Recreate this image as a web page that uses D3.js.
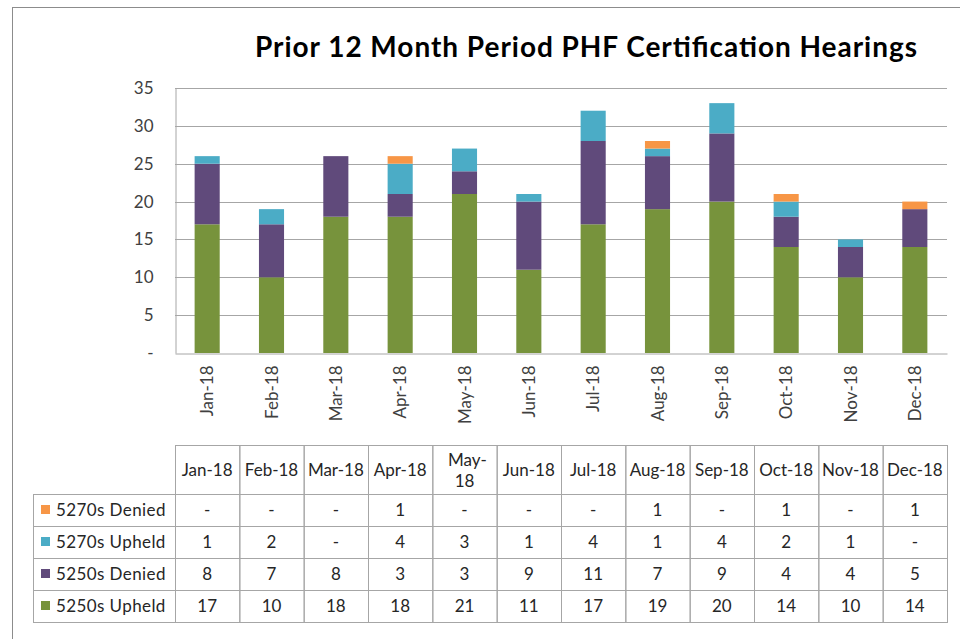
<!DOCTYPE html>
<html>
<head>
<meta charset="utf-8">
<script src="https://cdnjs.cloudflare.com/ajax/libs/d3/7.8.5/d3.min.js"></script>
<style>
  body { margin: 0; background: #fff; }
  text { font-family: Lato, "Noto Sans", sans-serif; }
</style>
</head>
<body>
<script>
// ---- data ----
var months = ['Jan-18','Feb-18','Mar-18','Apr-18','May-18','Jun-18','Jul-18','Aug-18','Sep-18','Oct-18','Nov-18','Dec-18']
var upheld5250 = [17, 10, 18, 18, 21, 11, 17, 19, 20, 14, 10, 14]
var denied5250 = [8, 7, 8, 3, 3, 9, 11, 7, 9, 4, 4, 5]
var upheld5270 = [1, 2, 0, 4, 3, 1, 4, 1, 4, 2, 1, 0]
var denied5270 = [0, 0, 0, 1, 0, 0, 0, 1, 0, 1, 0, 1]
var seriesNames = ['5250s Upheld', '5250s Denied', '5270s Upheld', '5270s Denied']
var yTicks = [0, 5, 10, 15, 20, 25, 30, 35]

var colors = ['#77933c', '#604a7b', '#4bacc6', '#f79646']
var width = 960, height = 639
var plotL = 175, plotR = 947, plotT = 88, plotB = 353

var svg = d3.select('body').append('svg').attr('width', width).attr('height', height)

// outer chart border (runs off the right/bottom of the picture)
svg.append('rect').attr('x', 12.5).attr('y', 7.5).attr('width', 1000).attr('height', 700)
  .attr('fill', 'none').attr('stroke', '#8c8c8c').attr('stroke-width', 1)

svg.append('text').attr('x', 586).attr('y', 57).attr('text-anchor', 'middle')
  .attr('font-size', 28).attr('font-weight', 'bold').attr('fill', '#000')
  .attr('textLength', 662).attr('lengthAdjust', 'spacing')
  .text('Prior 12 Month Period PHF Certification Hearings')

var x = d3.scaleBand().domain(months).range([plotL, plotR]).paddingInner(0.61).paddingOuter(0.305)
var band = d3.scaleBand().domain(months).range([plotL, plotR])
var y = d3.scaleLinear().domain([0, 35]).range([plotB, plotT])

// gridlines
svg.append('g').selectAll('line').data(yTicks.filter(d => d > 0)).enter().append('line')
  .attr('x1', plotL).attr('x2', plotR)
  .attr('y1', d => Math.round(y(d)) + 0.5).attr('y2', d => Math.round(y(d)) + 0.5)
  .attr('stroke', '#a6a6a6')

// y axis
var yAxis = d3.axisLeft(y).tickValues(yTicks).tickSize(0).tickPadding(22)
  .tickFormat(d => d === 0 ? '-' : d)
var yg = svg.append('g').attr('transform', 'translate(' + (plotL + 0.5) + ',0)').call(yAxis)
yg.select('.domain').attr('stroke', '#a6a6a6')
yg.selectAll('text').attr('font-size', 17).attr('fill', '#404040').style('font-family', 'Lato')

// stacked bars
var rows = months.map((m, i) => ({ month: m, s0: upheld5250[i], s1: denied5250[i], s2: upheld5270[i], s3: denied5270[i] }))
var stack = d3.stack().keys(['s0', 's1', 's2', 's3'])(rows)
svg.append('g').selectAll('g').data(stack).enter().append('g')
  .attr('fill', (d, i) => colors[i])
  .selectAll('rect').data(d => d).enter().append('rect')
  .attr('x', d => x(d.data.month)).attr('width', x.bandwidth())
  .attr('y', d => y(d[1])).attr('height', d => y(d[0]) - y(d[1]))

// x axis
var xAxis = d3.axisBottom(band).tickSize(0).tickPadding(0)
var xg = svg.append('g').attr('transform', 'translate(0,' + (plotB + 0.5) + ')').call(xAxis)
xg.select('.domain').attr('stroke', '#a6a6a6')
xg.selectAll('text').attr('font-size', 17).attr('fill', '#404040').style('font-family', 'Lato')
  .attr('text-anchor', 'end').attr('transform', 'translate(6,12) rotate(-90)').attr('dy', 0).attr('y', 0).attr('x', 0)

// data table
var tblTop = 445, headB = 494, rowH = 32, labelL = 33
var tbl = svg.append('g')
var lineC = '#a6a6a6'
// header cells
months.forEach(function (m, i) {
  var cx = band(m)
  tbl.append('rect').attr('x', cx + 0.5).attr('y', tblTop + 0.5).attr('width', band.bandwidth()).attr('height', headB - tblTop)
    .attr('fill', 'none').attr('stroke', lineC)
  var t = tbl.append('text').attr('x', cx + band.bandwidth() / 2).attr('text-anchor', 'middle')
    .attr('font-size', 17).attr('fill', '#262626')
  if (m === 'May-18') {
    t.append('tspan').attr('x', cx + band.bandwidth() / 2 + 3).attr('y', 466).text('May-')
    t.append('tspan').attr('x', cx + band.bandwidth() / 2).attr('y', 487).text('18')
  } else {
    t.attr('y', 476).text(m)
  }
})
var tableRows = [
  { name: seriesNames[3], vals: denied5270, color: colors[3] },
  { name: seriesNames[2], vals: upheld5270, color: colors[2] },
  { name: seriesNames[1], vals: denied5250, color: colors[1] },
  { name: seriesNames[0], vals: upheld5250, color: colors[0] }
]
tableRows.forEach(function (r, j) {
  var ry = headB + j * rowH
  tbl.append('rect').attr('x', labelL + 0.5).attr('y', ry + 0.5).attr('width', plotL - labelL).attr('height', rowH)
    .attr('fill', 'none').attr('stroke', lineC)
  tbl.append('rect').attr('x', 41).attr('y', ry + rowH / 2 - 5).attr('width', 9).attr('height', 9).attr('fill', r.color)
  tbl.append('text').attr('x', 56).attr('y', ry + rowH / 2 + 6).attr('font-size', 17).attr('fill', '#262626')
    .attr('letter-spacing', 0.4).text(r.name)
  months.forEach(function (m, i) {
    tbl.append('rect').attr('x', band(m) + 0.5).attr('y', ry + 0.5).attr('width', band.bandwidth()).attr('height', rowH)
      .attr('fill', 'none').attr('stroke', lineC)
    tbl.append('text').attr('x', band(m) + band.bandwidth() / 2).attr('y', ry + rowH / 2 + 6)
      .attr('text-anchor', 'middle').attr('font-size', 17).attr('fill', '#262626')
      .text(r.vals[i] === 0 ? '-' : r.vals[i])
  })
})
</script>
</body>
</html>
